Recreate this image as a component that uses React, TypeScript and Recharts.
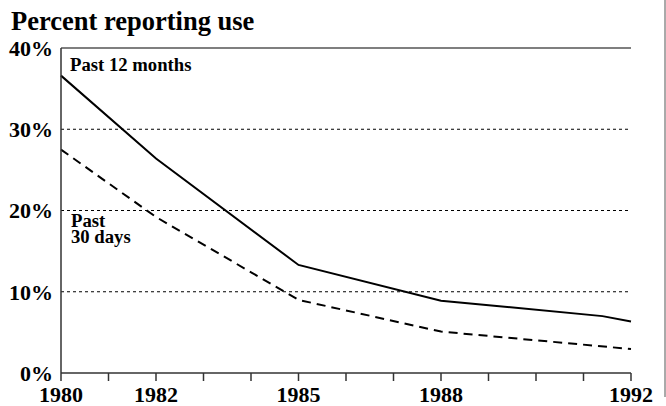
import React from "react";
import { LineChart, Line, XAxis, YAxis, ReferenceLine } from "recharts";

const yearsPast12 = [1980, 1982, 1985, 1988, 1991.4, 1992];
const valuesPast12 = [36.6, 26.4, 13.3, 8.9, 7.0, 6.35];
const yearsPast30 = [1980, 1982, 1985, 1988, 1992];
const valuesPast30 = [27.5, 19.2, 9.0, 5.1, 2.95];

const xTicks = [1980, 1981, 1982, 1983, 1984, 1985, 1986, 1987, 1988, 1989, 1990, 1991, 1992];
const xLabels = [1980, 1982, 1985, 1988, 1992];
const yTicks = [0, 10, 20, 30, 40];
const gridValues = [10, 20, 30];

const title = "Percent reporting use";
const label12 = "Past 12 months";
const label30a = "Past";
const label30b = "30 days";

const past12 = yearsPast12.map((year, i) => ({ year, value: valuesPast12[i] }));
const past30 = yearsPast30.map((year, i) => ({ year, value: valuesPast30[i] }));

const FONT = "'Liberation Serif', 'Times New Roman', Times, serif";

const XTick = (props: any) => {
  const { x, y, payload } = props;
  if (!xLabels.includes(payload.value)) return null;
  return (
    <text
      x={x}
      y={y}
      dy="0.71em"
      textAnchor="middle"
      fontFamily={FONT}
      fontWeight="bold"
      fontSize={22}
      fill="#000"
    >
      {payload.value}
    </text>
  );
};

export default function App() {
  return (
    <div style={{ position: "absolute", left: 0, top: 0, width: 666, height: 406, background: "#fff" }}>
      <LineChart
        width={666}
        height={406}
        margin={{ top: 48, right: 35, bottom: 0, left: 0 }}
      >
        <XAxis
          type="number"
          dataKey="year"
          domain={[1980, 1992]}
          ticks={xTicks}
          interval={0}
          allowDuplicatedCategory={false}
          height={33}
          tickSize={8}
          tickMargin={5}
          tick={<XTick />}
          axisLine={{ stroke: "#333", strokeWidth: 1.5 }}
          tickLine={{ stroke: "#333", strokeWidth: 1.5 }}
        />
        <YAxis
          type="number"
          domain={[0, 40]}
          ticks={yTicks}
          interval={0}
          width={61}
          tickSize={0}
          tickMargin={8}
          tickLine={false}
          tickFormatter={(v: number) => `${v}%`}
          tick={{ fontFamily: FONT, fontWeight: "bold", fontSize: 22, fill: "#000" }}
          axisLine={{ stroke: "#333", strokeWidth: 1.5 }}
        />
        {gridValues.map((v) => (
          <ReferenceLine key={v} y={v} stroke="#000" strokeWidth={1} strokeDasharray="3 3" />
        ))}
        <ReferenceLine y={40} stroke="#555" strokeWidth={1.5} />
        <Line
          data={past12}
          dataKey="value"
          type="linear"
          stroke="#000"
          strokeWidth={2}
          dot={false}
          isAnimationActive={false}
        />
        <Line
          data={past30}
          dataKey="value"
          type="linear"
          stroke="#000"
          strokeWidth={2}
          strokeDasharray="9 6"
          dot={false}
          isAnimationActive={false}
        />
      </LineChart>
      <svg
        width={666}
        height={406}
        style={{ position: "absolute", left: 0, top: 0, pointerEvents: "none" }}
      >
        <text x={11} y={30} fontFamily={FONT} fontWeight="bold" fontSize={26.5} fill="#000">
          {title}
        </text>
        <text x={70} y={71} fontFamily={FONT} fontWeight="bold" fontSize={18.7} fill="#000">
          {label12}
        </text>
        <text x={71} y={227} fontFamily={FONT} fontWeight="bold" fontSize={18.7} fill="#000">
          {label30a}
        </text>
        <text x={71} y={243} fontFamily={FONT} fontWeight="bold" fontSize={18.7} fill="#000">
          {label30b}
        </text>
        <line x1={665} y1={0} x2={665} y2={397} stroke="#555" strokeWidth={1} />
      </svg>
    </div>
  );
}
